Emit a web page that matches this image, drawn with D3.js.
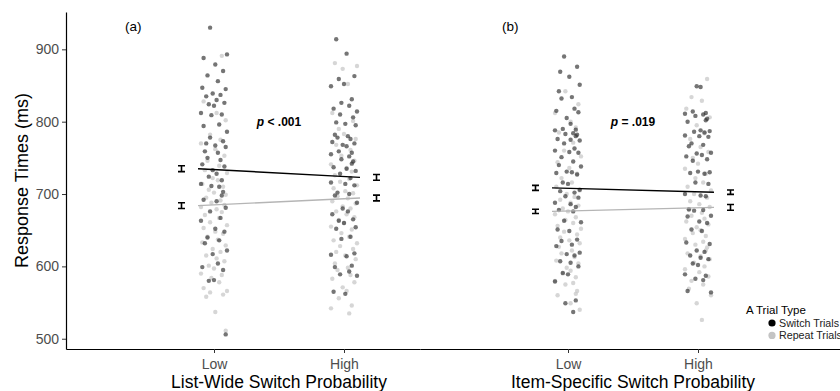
<!DOCTYPE html>
<html>
<head>
<meta charset="utf-8">
<script src="https://cdn.jsdelivr.net/npm/d3@7"></script>
<style>
  body { margin: 0; background: #fff; }
  svg { display: block; font-family: "Liberation Sans", Arial, sans-serif; }
</style>
</head>
<body>
<div id="chartdiv"></div>
<script>
// categories and labels
var levels = ["Low", "High"];
var panelTitles = ["List-Wide Switch Probability", "Item-Specific Switch Probability"];
var panelTags = ["(a)", "(b)"];
var pLabels = [["p", " < .001"], ["p", " = .019"]];
var trialTypes = ["Switch Trials", "Repeat Trials"];
var yTicks = [500, 600, 700, 800, 900];

// condition means and standard errors [Low, High]
var aSwitchMean = [735, 723], aRepeatMean = [684, 694.5];
var bSwitchMean = [708.5, 702.5], bRepeatMean = [676, 681.5];
var aSwitchSE = [4, 4], aRepeatSE = [4, 4];
var bSwitchSE = [3.5, 3], bRepeatSE = [3, 4];

// participant means
var aLowSwitch = [930, 893, 888, 879, 870, 864, 856, 847, 845, 839, 837, 835, 830, 826, 824, 822, 812, 810, 809, 796, 794, 786, 778, 773, 770, 767, 765, 759, 757, 750, 747, 741, 738, 733, 728, 724, 719, 714, 710, 711, 703, 698, 692, 690, 681, 676, 667, 663, 652, 648, 640, 636, 632, 622, 617, 604, 599, 595, 580, 581, 506];
var aLowRepeat = [891, 828, 812, 802, 782, 775, 770, 762, 753, 746, 739, 733, 729, 722, 719, 714, 710, 706, 702, 699, 695, 691, 688, 685, 682, 679, 675, 671, 667, 661, 657, 653, 648, 645, 641, 637, 633, 629, 624, 620, 615, 611, 607, 601, 597, 590, 588, 584, 578, 570, 566, 564, 561, 558, 537, 511];
var aHighSwitch = [914, 894, 863, 859, 852, 849, 831, 826, 822, 818, 814, 810, 806, 799, 797, 795, 782, 780, 778, 776, 772, 770, 768, 766, 759, 757, 755, 752, 748, 745, 742, 737, 735, 732, 728, 722, 716, 714, 712, 702, 700, 698, 688, 680, 676, 672, 665, 663, 660, 654, 652, 641, 638, 618, 616, 614, 601, 599, 593, 589, 587, 565, 562];
var aHighRepeat = [881, 877, 873, 852, 812, 801, 790, 783, 776, 768, 761, 753, 746, 741, 736, 731, 726, 721, 717, 712, 708, 704, 701, 697, 694, 690, 687, 683, 680, 676, 672, 668, 664, 660, 655, 651, 646, 641, 636, 632, 628, 624, 620, 615, 610, 604, 598, 595, 588, 583, 578, 571, 566, 556, 546, 542, 535];
var bLowSwitch = [890, 876, 869, 862, 851, 842, 834, 832, 818, 815, 813, 805, 797, 790, 789, 788, 784, 783, 782, 780, 776, 775, 774, 770, 763, 760, 758, 757, 751, 745, 740, 738, 731, 730, 729, 727, 716, 714, 706, 704, 702, 697, 695, 688, 686, 682, 678, 676, 663, 661, 651, 649, 637, 635, 630, 628, 619, 617, 615, 607, 605, 600, 591, 589, 579, 553, 549, 537];
var bLowRepeat = [842, 824, 812, 800, 792, 785, 771, 760, 752, 744, 736, 728, 722, 716, 710, 705, 700, 696, 692, 688, 684, 680, 676, 672, 668, 664, 660, 656, 652, 648, 644, 640, 636, 632, 627, 622, 618, 613, 608, 604, 598, 594, 590, 585, 580, 577, 575, 566, 562, 560, 549, 540];
var bHighSwitch = [849, 848, 814, 812, 811, 810, 808, 804, 802, 800, 788, 787, 786, 785, 781, 780, 779, 770, 768, 766, 757, 756, 754, 752, 748, 746, 731, 730, 729, 728, 716, 714, 700, 698, 697, 679, 678, 677, 670, 669, 662, 660, 651, 649, 633, 631, 622, 620, 615, 612, 610, 604, 602, 589, 587, 583, 581, 566, 564];
var bHighRepeat = [859, 834, 829, 818, 806, 795, 784, 776, 765, 758, 750, 742, 735, 728, 722, 716, 710, 705, 700, 695, 690, 686, 682, 678, 674, 670, 666, 662, 658, 654, 650, 646, 642, 638, 634, 630, 626, 622, 618, 614, 610, 605, 600, 596, 592, 586, 580, 575, 569, 560, 549, 526];

// horizontal jitter (in category units)
var jitter = [0.06, -0.08, 0.02, 0.09, -0.03, 0.05, -0.10, 0.01, 0.08, -0.05, 0.04, -0.07, 0.10, -0.01, 0.03, -0.09, 0.07, -0.04, 0.00, 0.09, -0.06, 0.05, -0.02, 0.08, -0.10, 0.02, 0.06, -0.07, 0.04, -0.03, 0.10, -0.08, 0.01, 0.07, -0.05, 0.03, -0.09, 0.09, -0.01, 0.05, -0.06, 0.02, 0.08, -0.04, 0.00, -0.10, 0.06, -0.02, 0.04, -0.08, 0.10, -0.03, 0.07, -0.06, 0.01, 0.09, -0.07, 0.03, -0.05, 0.05, -0.09, 0.08, -0.01, 0.02, -0.04, 0.06, -0.10, 0.04, -0.02, 0.07];

var panels = [
  { points: [[aLowRepeat, aHighRepeat], [aLowSwitch, aHighSwitch]],
    means: [aRepeatMean, aSwitchMean], se: [aRepeatSE, aSwitchSE] },
  { points: [[bLowRepeat, bHighRepeat], [bLowSwitch, bHighSwitch]],
    means: [bRepeatMean, bSwitchMean], se: [bRepeatSE, bSwitchSE] }
];

var width = 840, height = 391;
var plotTop = 12, plotBottom = 349;
var unit = 130;              // px per category step
var lowOffset = 148;         // px from panel left edge to "Low"
var panelLeft = [66, 420], panelRight = [420, 840];
var tagX = [125, 502];

var pointFill = ["#c8c8c8", "#2b2b2b"];
var pointOpacity = [0.75, 0.65];
var lineColor = ["#b5b5b5", "#000"];

var svg = d3.select("#chartdiv").append("svg")
  .attr("width", width)
  .attr("height", height);

var y = d3.scaleLinear()
  .domain([485.8, 951.6])
  .range([plotBottom, plotTop]);

panels.forEach(function(p, pi) {
  var x0 = panelLeft[pi], x1 = panelRight[pi];
  var x = d3.scaleLinear()
    .domain([-lowOffset / unit, (x1 - x0 - lowOffset) / unit])
    .range([x0, x1]);

  var g = svg.append("g");

  // jittered points, repeat first then switch
  p.points.forEach(function(cols, t) {
    cols.forEach(function(vals, li) {
      var start = (pi * 2 + li) * 11 + t * 29;
      g.selectAll(null)
        .data(vals)
        .enter().append("circle")
          .attr("cx", (d, i) => x(li + jitter[(i + start) % jitter.length]))
          .attr("cy", d => y(d))
          .attr("r", 2.2)
          .attr("fill", pointFill[t])
          .attr("fill-opacity", pointOpacity[t]);
    });
  });

  // mean lines
  p.means.forEach(function(m, t) {
    g.append("line")
      .attr("x1", x(-0.123)).attr("y1", y(m[0]))
      .attr("x2", x(1.123)).attr("y2", y(m[1]))
      .attr("stroke", lineColor[t])
      .attr("stroke-width", 1.4);
  });

  // error bars beside each column
  p.means.forEach(function(m, t) {
    [0, 1].forEach(function(li) {
      var cx = x(li === 0 ? -0.25 : 1.25);
      var lo = y(m[li] - p.se[t][li]), hi = y(m[li] + p.se[t][li]);
      g.append("path")
        .attr("d", "M" + (cx - 3.5) + "," + hi + "H" + (cx + 3.5) +
                   "M" + cx + "," + hi + "V" + lo +
                   "M" + (cx - 3.5) + "," + lo + "H" + (cx + 3.5))
        .attr("stroke", "#000")
        .attr("stroke-width", 1.6)
        .attr("fill", "none");
    });
  });

  // p value annotation
  var pt = g.append("text")
    .attr("x", x(0.5)).attr("y", y(800) + 4)
    .attr("text-anchor", "middle")
    .attr("font-size", "12px")
    .attr("font-weight", "bold");
  pt.append("tspan").attr("font-style", "italic").text(pLabels[pi][0]);
  pt.append("tspan").text(pLabels[pi][1]);

  // panel tag
  g.append("text")
    .attr("x", tagX[pi]).attr("y", 31)
    .attr("font-size", "13.5px")
    .text(panelTags[pi]);

  // x axis
  var xa = svg.append("g")
    .attr("class", "xaxis")
    .attr("transform", "translate(0," + plotBottom + ")")
    .call(d3.axisBottom(x).tickValues([0, 1]).tickFormat(d => levels[d]).tickSize(4).tickSizeOuter(0));
  xa.select(".domain").attr("stroke", "#000").attr("stroke-width", 1.2);
  xa.selectAll(".tick line").attr("stroke", "#333");
  xa.selectAll("text")
    .attr("font-size", "14px")
    .attr("fill", "#4d4d4d")
    .attr("dy", "0.95em");

  svg.append("text")
    .attr("x", x(0.5)).attr("y", 388)
    .attr("text-anchor", "middle")
    .attr("font-size", "17.5px")
    .text(panelTitles[pi]);
});

// y axis on the first panel only
var ya = svg.append("g")
  .attr("class", "yaxis")
  .attr("transform", "translate(" + panelLeft[0] + ",0)")
  .call(d3.axisLeft(y).tickValues(yTicks).tickSize(4).tickSizeOuter(0));
ya.select(".domain").attr("stroke", "#000").attr("stroke-width", 1.2);
ya.selectAll(".tick line").attr("stroke", "#333");
ya.selectAll("text")
  .attr("font-size", "14px")
  .attr("fill", "#4d4d4d");

svg.append("text")
  .attr("transform", "translate(28," + ((plotTop + plotBottom) / 2) + ") rotate(-90)")
  .attr("text-anchor", "middle")
  .attr("font-size", "18px")
  .text("Response Times (ms)");

// legend
var lg = svg.append("g").attr("transform", "translate(746,314)");
lg.append("text").attr("font-size", "11.5px").text("A Trial Type");
trialTypes.forEach(function(name, i) {
  lg.append("circle")
    .attr("cx", 26).attr("cy", 9 + i * 12.4)
    .attr("r", 3.6)
    .attr("fill", i === 0 ? "#000" : "#c4c4c4");
  lg.append("text")
    .attr("x", 33).attr("y", 13 + i * 12.4)
    .attr("font-size", "10.7px")
    .attr("fill", "#222")
    .text(name);
});
</script>
</body>
</html>
